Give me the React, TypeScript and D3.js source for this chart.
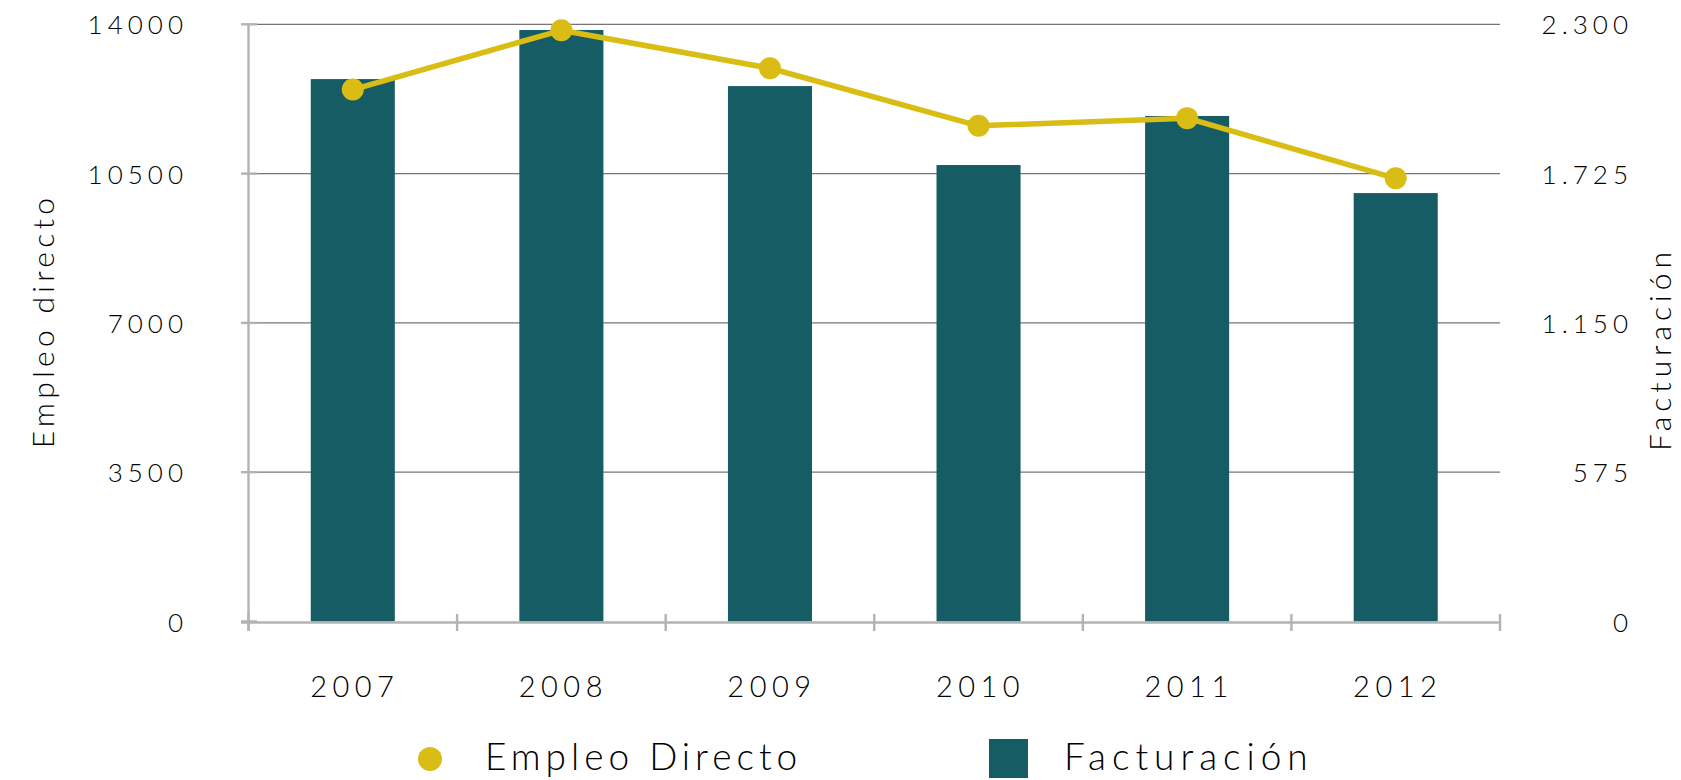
import React from 'react';
import * as d3 from 'd3';

const years = ['2007', '2008', '2009', '2010', '2011', '2012'];
const empleoDirecto = [12470, 13860, 12970, 11620, 11800, 10390];
const facturacion = [2089, 2278, 2062, 1758, 1947, 1650];
const leftTicks = [0, 3500, 7000, 10500, 14000];
const rightTicks = [0, 575, 1150, 1725, 2300];

const W = 1681;
const H = 780;
const FONT = "Lato, 'Open Sans', sans-serif";
const BAR = '#165C65';
const LINE = '#D9BD14';
const AXIS = '#b3b3b3';
const GRID = '#767676';
const TEXT = '#000000';

const esLocale = d3.formatLocale({ decimal: ',', thousands: '.', grouping: [3], currency: ['', ''] });
const fmtRight = esLocale.format(',d');
const fmtLeft = d3.format('d');

export default function App() {
  const x0 = 248.5;
  const x1 = 1500;
  const yTop = 24.3;
  const yZero = 621.5;

  const x = d3.scaleBand<string>().domain(years).range([x0, x1]).paddingInner(0.597).paddingOuter(0.2985);
  const yL = d3.scaleLinear().domain([0, 14000]).range([yZero, yTop]);
  const yR = d3.scaleLinear().domain([0, 2300]).range([yZero, yTop]);
  const step = x.step();
  const cx = (d: string) => (x(d) as number) + x.bandwidth() / 2;

  const line = d3
    .line<number>()
    .x((_, i) => cx(years[i]))
    .y((v) => yL(v));

  const boundaries = d3.range(years.length + 1).map((i) => x0 + i * step);

  return (
    <svg
      width={W}
      height={H}
      style={{ position: 'absolute', left: 0, top: 0, background: '#fff' }}
      fontFamily={FONT}
      fontWeight={300}
    >
      {leftTicks
        .filter((t) => t > 0)
        .map((t) => (
          <line key={'g' + t} x1={x0} x2={x1} y1={yL(t)} y2={yL(t)} stroke={GRID} strokeWidth={1.3} />
        ))}
      <line x1={x0} x2={x0} y1={yTop} y2={631} stroke={AXIS} strokeWidth={2.4} />
      {leftTicks.map((t) => (
        <line key={'lt' + t} x1={241} x2={257} y1={yL(t)} y2={yL(t)} stroke={AXIS} strokeWidth={2.4} />
      ))}
      {years.map((yr, i) => (
        <rect
          key={'b' + yr}
          x={x(yr)}
          y={yR(facturacion[i])}
          width={x.bandwidth()}
          height={yZero - yR(facturacion[i])}
          fill={BAR}
        />
      ))}
      <line x1={241} x2={x1} y1={yZero + 1} y2={yZero + 1} stroke={AXIS} strokeWidth={2.6} />
      {boundaries.map((b, i) => (
        <line key={'xt' + i} x1={b} x2={b} y1={614} y2={631} stroke={AXIS} strokeWidth={2.4} />
      ))}
      <path d={line(empleoDirecto) || ''} fill="none" stroke={LINE} strokeWidth={5.5} strokeLinejoin="round" />
      {empleoDirecto.map((v, i) => (
        <circle key={'p' + i} cx={cx(years[i])} cy={yL(v)} r={11} fill={LINE} />
      ))}
      {leftTicks.map((t) => (
        <text key={'ll' + t} x={188} y={yL(t) + 10} textAnchor="end" fontSize={26} letterSpacing={5} fill={TEXT}>
          {fmtLeft(t)}
        </text>
      ))}
      {rightTicks.map((t) => (
        <text key={'rl' + t} x={1633} y={yR(t) + 10} textAnchor="end" fontSize={26} letterSpacing={5} fill={TEXT}>
          {fmtRight(t)}
        </text>
      ))}
      {years.map((yr) => (
        <text key={'xl' + yr} x={cx(yr) + 2} y={697} textAnchor="middle" fontSize={29} letterSpacing={5.5} fill={TEXT}>
          {yr}
        </text>
      ))}
      <text transform={`translate(54,321) rotate(-90)`} textAnchor="middle" fontSize={30} letterSpacing={4.3} fill={TEXT}>
        Empleo directo
      </text>
      <text transform={`translate(1671,349) rotate(-90)`} textAnchor="middle" fontSize={30} letterSpacing={5} fill={TEXT}>
        Facturación
      </text>
      <circle cx={430} cy={759} r={12} fill={LINE} />
      <text x={485} y={770} fontSize={37} letterSpacing={5} fill={TEXT}>
        Empleo Directo
      </text>
      <rect x={989} y={739} width={39} height={39} fill={BAR} />
      <text x={1064} y={770} fontSize={37} letterSpacing={6} fill={TEXT}>
        Facturación
      </text>
    </svg>
  );
}
